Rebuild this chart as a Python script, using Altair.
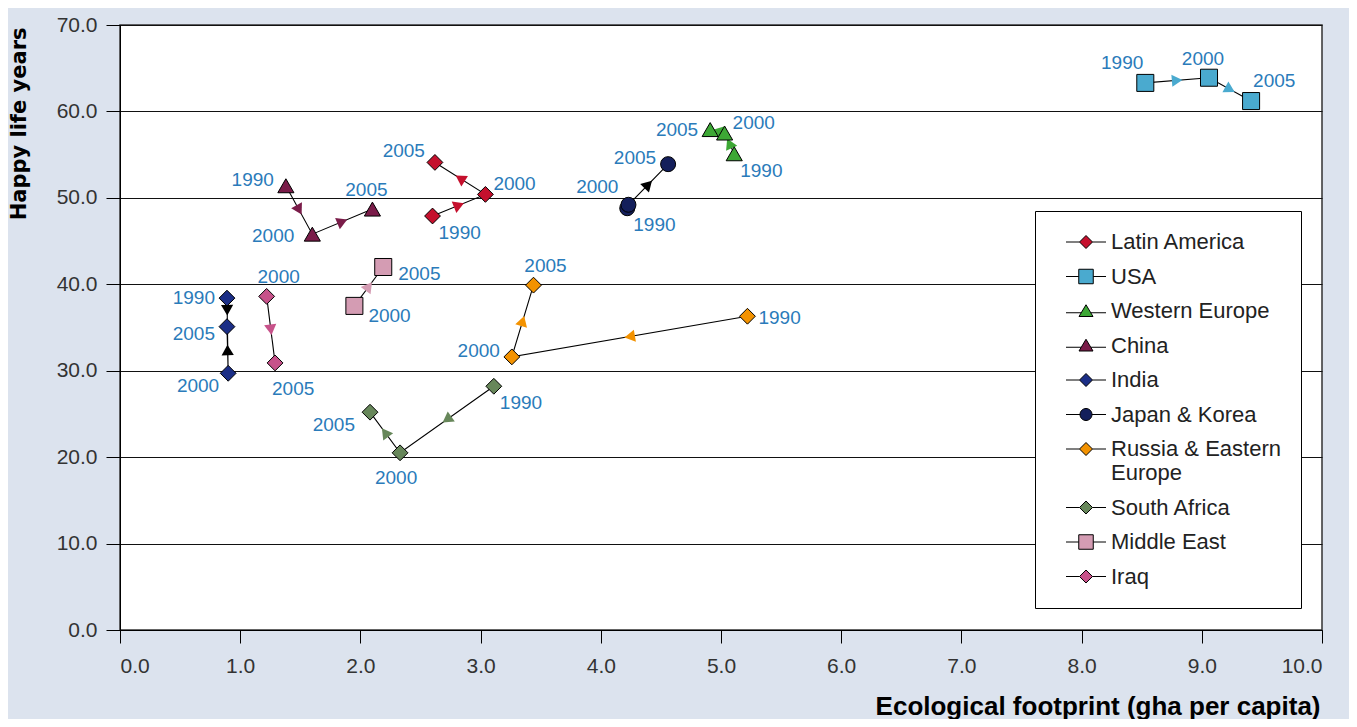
import math
import altair as alt
import pandas as pd

# ---------------- data ----------------
series_names = ["Latin America", "USA", "Western Europe", "China", "India",
                "Japan & Korea", "Russia & Eastern Europe", "South Africa",
                "Middle East", "Iraq"]

years_3 = [1990, 2000, 2005]
years_2 = [2000, 2005]

latin_america_x = [2.60, 3.04, 2.62]
latin_america_y = [47.9, 50.4, 54.1]
usa_x = [8.53, 9.06, 9.41]
usa_y = [63.3, 63.9, 61.2]
western_europe_x = [5.11, 5.03, 4.91]
western_europe_y = [55.1, 57.5, 57.9]
china_x = [1.38, 1.60, 2.10]
china_y = [51.4, 45.8, 48.7]
india_x = [0.89, 0.90, 0.89]
india_y = [38.4, 29.7, 35.1]
japan_korea_x = [4.22, 4.23, 4.56]
japan_korea_y = [48.8, 49.2, 53.9]
russia_ee_x = [5.22, 3.26, 3.44]
russia_ee_y = [36.3, 31.6, 39.9]
south_africa_x = [3.11, 2.33, 2.08]
south_africa_y = [28.2, 20.5, 25.2]
middle_east_x = [1.95, 2.19]
middle_east_y = [37.5, 42.0]
iraq_x = [1.22, 1.29]
iraq_y = [38.6, 30.9]

x_ticks = [0, 1, 2, 3, 4, 5, 6, 7, 8, 9, 10]
y_ticks = [0, 10, 20, 30, 40, 50, 60, 70]

# ---------------- styles ----------------
series_colors = ["#c5102d", "#4aaacf", "#3da835", "#7a1c49", "#1b2e86",
                 "#141f5b", "#f39200", "#67875a", "#d49cb3", "#c7528a"]
arrow_colors = ["#c5102d", "#4aaacf", "#3da835", "#7a1c49", "#000000",
                "#000000", "#f39200", "#67875a", "#d49cb3", "#c7528a"]
series_shapes = ["diamond", "square", "triangle-up", "triangle-up", "diamond",
                 "circle", "diamond", "diamond", "square", "diamond"]
shape_sizes = {"diamond": 250, "square": 290, "triangle-up": 260, "circle": 225}

# label placement codes per point (compass directions)
label_spots = [
    ["SE", "NE", "NW"],
    ["NNW", "N", "NNE"],
    ["SE", "NE", "W"],
    ["WN", "W2", "N"],
    ["W", "SW", "WS"],
    ["SE", "NW2", "WN"],
    ["E", "WN", "N2"],
    ["SE", "S", "SW2"],
    ["SE2", "E2"],
    ["N2", "SSE"],
]
# fraction along each segment where the direction arrow sits
arrow_fracs = [
    [0.5, 0.5], [0.5, 0.5], [0.5, 0.5], [0.5, 0.5], [0.16, 0.5],
    [0.5, 0.5], [0.5, 0.5], [0.5, 0.5], [0.5], [0.5],
]

spot_style = {
    "N": (-6, -19, "center"), "N2": (12, -19, "center"), "S": (-4, 25, "center"),
    "E": (11, 2, "left"), "W": (-12, 0, "right"),
    "WN": (-12, -6, "right"), "WS": (-12, 7, "right"),
    "E2": (15, 7, "left"), "W2": (-18, 2, "right"),
    "NE": (8, -10, "left"), "NW": (-10, -11, "right"), "NW2": (-10, -18, "right"),
    "SE": (6, 17, "left"), "SE2": (14, 10, "left"),
    "SW": (-9, 13, "right"), "SW2": (-15, 13, "right"),
    "NNE": (2, -20, "left"), "NNW": (-2, -20, "right"),
    "SSE": (-3, 26, "left"),
}

xs = [latin_america_x, usa_x, western_europe_x, china_x, india_x,
      japan_korea_x, russia_ee_x, south_africa_x, middle_east_x, iraq_x]
ys = [latin_america_y, usa_y, western_europe_y, china_y, india_y,
      japan_korea_y, russia_ee_y, south_africa_y, middle_east_y, iraq_y]

W, H = 1202, 605
kx, ky = W / 10.0, H / 70.0

pts, arrows = [], []
for i, name in enumerate(series_names):
    yrs = years_3 if len(xs[i]) == 3 else years_2
    for j, yr in enumerate(yrs):
        pts.append({"series": name, "year": yr, "label": str(yr),
                    "x": xs[i][j], "y": ys[i][j],
                    "spot": label_spots[i][j],
                    "fcol": series_colors[i], "shp": series_shapes[i],
                    "size": shape_sizes[series_shapes[i]]})
    for j in range(len(yrs) - 1):
        f = arrow_fracs[i][j]
        x0, y0, x1, y1 = xs[i][j], ys[i][j], xs[i][j + 1], ys[i][j + 1]
        ang = math.degrees(math.atan2((x1 - x0) * kx, (y1 - y0) * ky)) % 360
        arrows.append({"series": name, "x": x0 + f * (x1 - x0),
                       "y": y0 + f * (y1 - y0), "angle": ang,
                       "acolor": arrow_colors[i]})

df = pd.DataFrame(pts)
adf = pd.DataFrame(arrows)

FONT = "Liberation Sans"
xscale = alt.Scale(domain=[0, 10], nice=False, zero=False)
yscale = alt.Scale(domain=[0, 70], nice=False, zero=False)

x_axis = alt.Axis(values=x_ticks, format=".1f", grid=False, tickSize=13,
                  tickColor="black", domainColor="black", labelFontSize=21,
                  labelColor="#333333", labelPadding=12, labelFont=FONT,
                  title="Ecological footprint (gha per capita)",
                  titleFont=FONT, titleFontSize=26, titleFontWeight="bold",
                  titleColor="black", titleX=W - 2, titleY=84,
                  titleAlign="right", titleBaseline="alphabetic")
y_axis = alt.Axis(values=y_ticks, format=".1f", grid=True, gridColor="#111111",
                  gridWidth=1.2, tickSize=14, tickColor="black",
                  domainColor="black", labelFontSize=21, labelColor="#333333",
                  labelPadding=9, labelFont=FONT, title="Happy life years",
                  titleFont="DejaVu Sans", titleFontSize=21, titleFontWeight="bold",
                  titleColor="black", titleX=-101, titleY=2,
                  titleAlign="right", titleBaseline="middle", titleAngle=-90)

X = alt.X("x:Q", scale=xscale, axis=x_axis)
Y = alt.Y("y:Q", scale=yscale, axis=y_axis)

lines = alt.Chart(df).mark_line(color="black", strokeWidth=1.1).encode(
    x=X, y=Y, detail="series:N", order="year:Q")

arrow_layer = alt.Chart(adf).mark_point(shape="triangle-up", filled=True,
                                        opacity=1, size=150).encode(
    x=X, y=Y,
    color=alt.Color("acolor:N", scale=None),
    angle=alt.Angle("angle:Q", scale=None))

points = alt.Chart(df).mark_point(filled=True, opacity=1, stroke="black",
                                  strokeWidth=1).encode(
    x=X, y=Y,
    fill=alt.Fill("fcol:N", scale=None),
    shape=alt.Shape("shp:N", scale=None),
    size=alt.Size("size:Q", scale=None))

text_layers = []
for code, (ddx, ddy, al) in spot_style.items():
    text_layers.append(
        alt.Chart(df).transform_filter(alt.datum.spot == code).mark_text(
            font=FONT, fontSize=19, color="#2a7bba", align=al,
            baseline="middle", dx=ddx, dy=ddy).encode(x=X, y=Y, text="label:N"))

# legend symbols: line with marker
legend_paths = {
    "diamond": "M-4,0H-1.3M1.3,0H4M0,-1.3L1.3,0L0,1.3L-1.3,0Z",
    "square": "M-4,0H-1.45M1.45,0H4M-1.45,-1.45H1.45V1.45H-1.45Z",
    "triangle-up": "M-4,0.35H-1.0M1.0,0.35H4M0,-1.25L1.4,1.1L-1.4,1.1Z",
    "circle": "M-4,0H-1.2M1.2,0H4M-1.2,0A1.2,1.2 0 1,0 1.2,0A1.2,1.2 0 1,0 -1.2,0Z",
}
legend_shapes = [legend_paths[s] for s in series_shapes]
legend_label_expr = ("datum.label == 'Russia & Eastern Europe' ? "
                     "['Russia & Eastern', 'Europe'] : datum.label")
leg = alt.Legend(title=None, orient="none", legendX=915, legendY=186,
                 fillColor="white", strokeColor="black", padding=20,
                 symbolSize=100, symbolStrokeColor="black", symbolStrokeWidth=1,
                 symbolOffset=20, labelOffset=14, labelFontSize=22,
                 labelFont=FONT, labelColor="#222222", labelLimit=400,
                 rowPadding=12.5, labelExpr=legend_label_expr)

legend_layer = alt.Chart(df).transform_filter("datum.x < -100").mark_point(
    filled=True, opacity=1, strokeWidth=1).encode(
    x=X, y=Y,
    fill=alt.Fill("series:N", scale=alt.Scale(domain=series_names,
                                              range=series_colors), legend=leg),
    stroke=alt.Stroke("series:N", scale=alt.Scale(domain=series_names,
                                                  range=["#000000"] * 10), legend=leg),
    shape=alt.Shape("series:N", scale=alt.Scale(domain=series_names,
                                                range=legend_shapes), legend=leg))

chart = alt.layer(lines, arrow_layer, points, *text_layers, legend_layer).properties(
    width=W, height=H,
    autosize=alt.AutoSizeParams(type="none"),
    padding={"left": 112, "top": 17, "right": 27, "bottom": 89},
    background="#dce3ee",
).configure_view(fill="white", stroke="#333333", strokeWidth=1.5)

chart.save("out.html", embed_options={"renderer": "svg", "actions": False})
